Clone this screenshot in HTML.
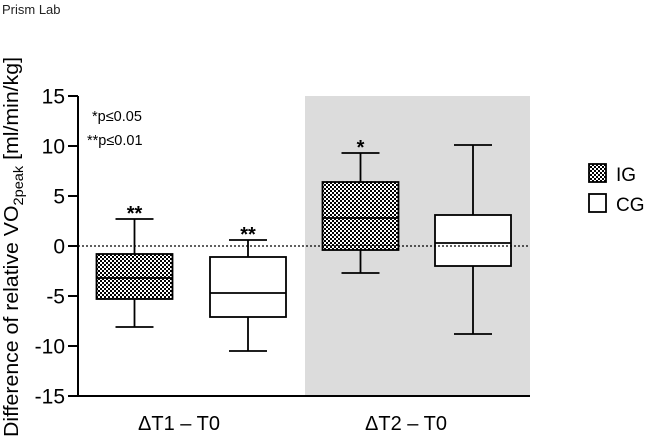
<!DOCTYPE html>
<html><head><meta charset="utf-8"><style>
body{margin:0;background:#fff;width:649px;height:437px;overflow:hidden}
svg text{font-family:"Liberation Sans",Arial,sans-serif}
</style></head><body>
<svg width="649" height="437" viewBox="0 0 649 437">
<defs><pattern id="chk" width="4" height="4" patternUnits="userSpaceOnUse"><rect width="4" height="4" fill="#fff"/><rect width="2" height="2" fill="#000"/><rect x="2" y="2" width="2" height="2" fill="#000"/></pattern></defs>
<text x="2" y="14" font-size="13" fill="#222">Prism Lab</text>
<rect x="305" y="96" width="225" height="301" fill="#dcdcdc"/>
<g id="plot"></g>
<text x="92" y="121" font-size="14.5">*p≤0.05</text>
<text x="87" y="145" font-size="14.5">**p≤0.01</text>
<text transform="translate(18,437) rotate(-90)" text-anchor="start" font-size="20.5" textLength="380" lengthAdjust="spacingAndGlyphs">Difference of relative VO<tspan font-size="14" dy="5">2peak</tspan><tspan dy="-5"> [ml/min/kg]</tspan></text>
<text x="179" y="430" text-anchor="middle" font-size="20">ΔT1 – T0</text>
<text x="406" y="430" text-anchor="middle" font-size="20">ΔT2 – T0</text>
<rect x="589" y="164" width="17" height="18" fill="url(#chk)" stroke="#000" stroke-width="1.8"/>
<text x="616" y="181" font-size="19">IG</text>
<rect x="589" y="194" width="17" height="18" fill="#fff" stroke="#000" stroke-width="1.8"/>
<text x="616" y="211" font-size="19">CG</text>
</svg>
<script>
const groups=["IG T1","CG T1","IG T2","CG T2"];
const whiskLo=[-8.1,-10.5,-2.7,-8.8];
const q1=[-5.3,-7.1,-0.4,-2.0];
const median=[-3.2,-4.7,2.8,0.3];
const q3=[-0.8,-1.1,6.4,3.1];
const whiskHi=[2.7,0.6,9.3,10.1];
const stars=["**","**","*",""];
const yTicks=[15,10,5,0,-5,-10,-15];
const centers=[134.5,248,360.5,473];
const y=v=>246-v*10;
const g=document.getElementById('plot');
const NS="http://www.w3.org/2000/svg";
function mk(t,a){const e=document.createElementNS(NS,t);for(const k in a)e.setAttribute(k,a[k]);g.appendChild(e);return e;}
let ax=mk('line',{x1:78,x2:78,y1:y(15),y2:y(-15),stroke:'#000','stroke-width':2});


let xa=mk('line',{x1:77,x2:530,y1:y(-15),y2:y(-15),stroke:'#000','stroke-width':2});


yTicks.forEach(v=>{
 let t=mk('line',{x1:68,x2:78,y1:y(v),y2:y(v),stroke:'#000','stroke-width':2});
 
 
 let l=mk('text',{x:65,y:y(v)+7.5,'text-anchor':'end','font-size':21});
 l.textContent=v;
 
 
});
groups.forEach((n,i)=>{
 const c=centers[i],hw=38,cw=19;
 const fill=i%2===0?'url(#chk)':'#fff';
 let w=mk('line',{x1:c,x2:c,y1:y(whiskHi[i]),y2:y(whiskLo[i]),stroke:'#000','stroke-width':1.8});
 
 
 [whiskHi[i],whiskLo[i]].forEach(v=>{let cp=mk('line',{x1:c-cw,x2:c+cw,y1:y(v),y2:y(v),stroke:'#000','stroke-width':1.8});
 
 });
 let b=mk('rect',{x:c-hw,y:y(q3[i]),width:2*hw,height:y(q1[i])-y(q3[i]),fill:fill,stroke:'#000','stroke-width':1.8});
 
 
 let m=mk('line',{x1:c-hw,x2:c+hw,y1:y(median[i]),y2:y(median[i]),stroke:'#000','stroke-width':1.8});
 
 
 if(stars[i]){let s=mk('text',{x:c,y:y(whiskHi[i])+1,'text-anchor':'middle','font-size':20,'font-weight':'bold'});s.textContent=stars[i];
 
 }
});
let z=mk('line',{x1:78,x2:530,y1:y(0),y2:y(0),stroke:'#000','stroke-width':1.2,'stroke-dasharray':'2,2'});


</script>
</body></html>
